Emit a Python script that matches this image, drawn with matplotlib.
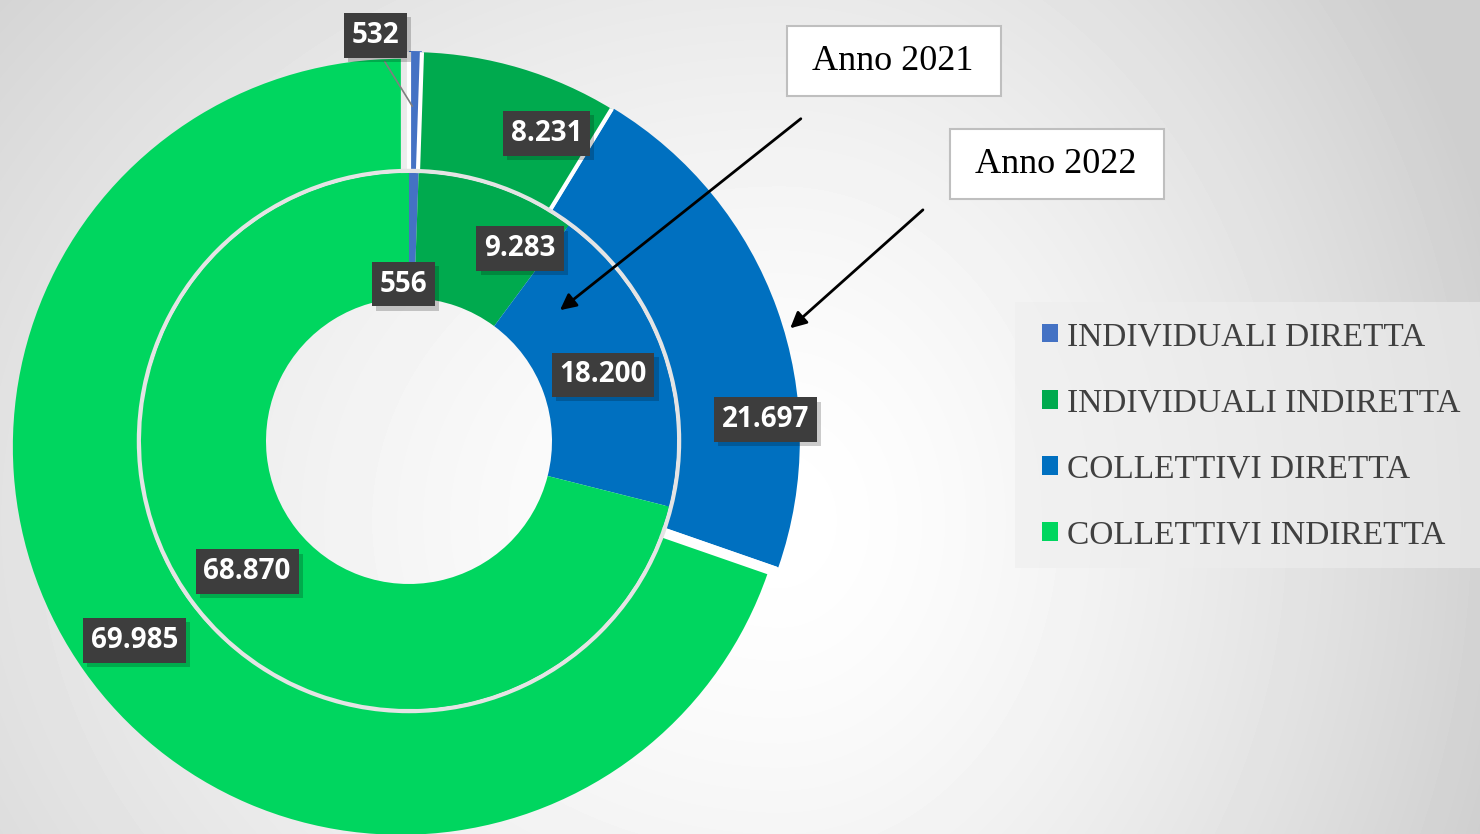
import numpy as np
import matplotlib
matplotlib.use('Agg')
from matplotlib import pyplot as plt
from matplotlib import patheffects as pe
from matplotlib.patches import Circle, Rectangle

# dati
categorie = ['INDIVIDUALI DIRETTA', 'INDIVIDUALI INDIRETTA',
             'COLLETTIVI DIRETTA', 'COLLETTIVI INDIRETTA']
valori_2021 = [556, 9283, 18200, 68870]
valori_2022 = [532, 8231, 21697, 69985]
colori = ['#4472c4', '#00aa4e', '#0070c0', '#00d65f']

# layout (pixel)
W, H = 1480, 834
centro = (409, 393)
r_est, r_mid, r_int = 388, 268, 143
esplodi = [2, 1, 3, 10]
# posizione etichette: raggio e scarto angolare rispetto al centro della fetta
lab_r_2021 = [157, 222, 205, 208]
lab_dt_2021 = [3, -10.7, -0.8, 1]
lab_r_2022 = [407, 337, 357, 339]
lab_dt_2022 = [5.7, -7.4, -16.3, 0.6]

fig = plt.figure(figsize=(W / 100, H / 100), dpi=100)
ax = fig.add_axes([0, 0, 1, 1])

# sfondo sfumato
xx, yy = np.meshgrid(np.arange(W), np.arange(H))
cx, cy = 780, 520
rx = np.where(xx < cx, 1100, 750)
d = np.sqrt(((xx - cx) / rx) ** 2 + ((yy - cy) / 900) ** 2)
grigio = 1 - 0.19 * np.clip(d, 0, 1) ** 1.5
ax.imshow(grigio, cmap='gray', vmin=0, vmax=1, extent=(0, W, 0, H),
          origin='upper', zorder=0, interpolation='bilinear')


def angoli_medi(valori):
    v = np.array(valori, dtype=float)
    cum = np.cumsum(v) - v / 2
    return 90 - 360 * cum / v.sum()


def angoli_bordi(valori):
    v = np.array(valori, dtype=float)
    return 90 - 360 * np.cumsum(v) / v.sum()


def polare(r, ang):
    a = np.radians(ang)
    return centro[0] + r * np.cos(a), centro[1] + r * np.sin(a)


def fmt(v):
    return f"{v:,}".replace(',', '.')


# anello esterno (2022), fette staccate
w_out, _ = ax.pie(valori_2022, radius=r_est, center=centro, colors=colori,
                  startangle=90, counterclock=False, explode=esplodi,
                  wedgeprops=dict(width=r_est - r_mid + 6, linewidth=0))
for w in w_out:
    w.set_zorder(1)
for ang in np.r_[90, angoli_bordi(valori_2022)[:-1]]:
    ax.plot(*zip(polare(r_mid - 8, ang), polare(r_est + 1, ang)),
            color='white', lw=3, solid_capstyle='butt', zorder=1.5)

# separatore tra gli anelli
ax.add_patch(Circle(centro, r_mid + 2, fill=False, edgecolor='#e4e4e4',
                    lw=3.2, zorder=1.8))

# anello interno (2021)
w_in, _ = ax.pie(valori_2021, radius=r_mid, center=centro, colors=colori,
                 startangle=90, counterclock=False,
                 wedgeprops=dict(width=r_mid - r_int, linewidth=0))
for w in w_in:
    w.set_zorder(2)


def etichetta(x, y, testo):
    t = ax.text(x, y, testo, ha='center', va='center', color='white',
                fontsize=20, fontweight='bold', family='Open Sans', zorder=5,
                bbox=dict(boxstyle='square,pad=0.28', facecolor='#3d3d3d',
                          edgecolor='none'))
    t.get_bbox_patch().set_path_effects(
        [pe.withSimplePatchShadow(offset=(3, -3), shadow_rgbFace='black', alpha=0.2)])
    return t


for valori, rr, dt in [(valori_2021, lab_r_2021, lab_dt_2021),
                       (valori_2022, lab_r_2022, lab_dt_2022)]:
    for v, ang, r, da in zip(valori, angoli_medi(valori), rr, dt):
        x, y = polare(r, ang + da)
        etichetta(x, y, fmt(v))

# linea guida per 532
ang532 = angoli_medi(valori_2022)[0]
ax.plot(*zip(polare(380, ang532 + 4.6), polare(335, ang532 + 0.4)),
        color='#7f7f7f', lw=1.2, zorder=4)

# richiami anno
box = dict(boxstyle='square,pad=0.5', facecolor='white', edgecolor='#bfbfbf', linewidth=1.5)
ax.text(894, 773, ' Anno 2021 ', family='Liberation Serif', fontsize=26,
        ha='center', va='center', bbox=box, zorder=6)
ax.text(1057, 670, ' Anno 2022 ', family='Liberation Serif', fontsize=26,
        ha='center', va='center', bbox=box, zorder=6)
freccia = dict(arrowstyle='-|>', color='black', lw=2, mutation_scale=24)
ang_b = angoli_medi(valori_2021)[2]
ax.annotate('', xy=polare(197, ang_b + 21.3), xytext=(803, 717),
            arrowprops=freccia, zorder=6)
ax.annotate('', xy=polare(395, 16.3), xytext=(925, 626),
            arrowprops=freccia, zorder=6)

# legenda
ax.add_patch(Rectangle((1015, H - 568), W - 1015, 266, facecolor='#eeeeee',
                       alpha=0.6, edgecolor='none', zorder=3))
leg = ax.legend(w_in, categorie, loc='center left',
                bbox_to_anchor=(1042 / W, 398 / H), borderaxespad=0,
                prop=dict(family='Liberation Serif', size=24),
                labelcolor='#404040', handlelength=0.48, handleheight=0.48,
                handletextpad=0.27, labelspacing=1.07, borderpad=0,
                frameon=False)
leg.set_zorder(4)

ax.set_xlim(0, W)
ax.set_ylim(0, H)
ax.set_aspect('auto')
ax.axis('off')
fig.savefig('out.png', dpi=100)
